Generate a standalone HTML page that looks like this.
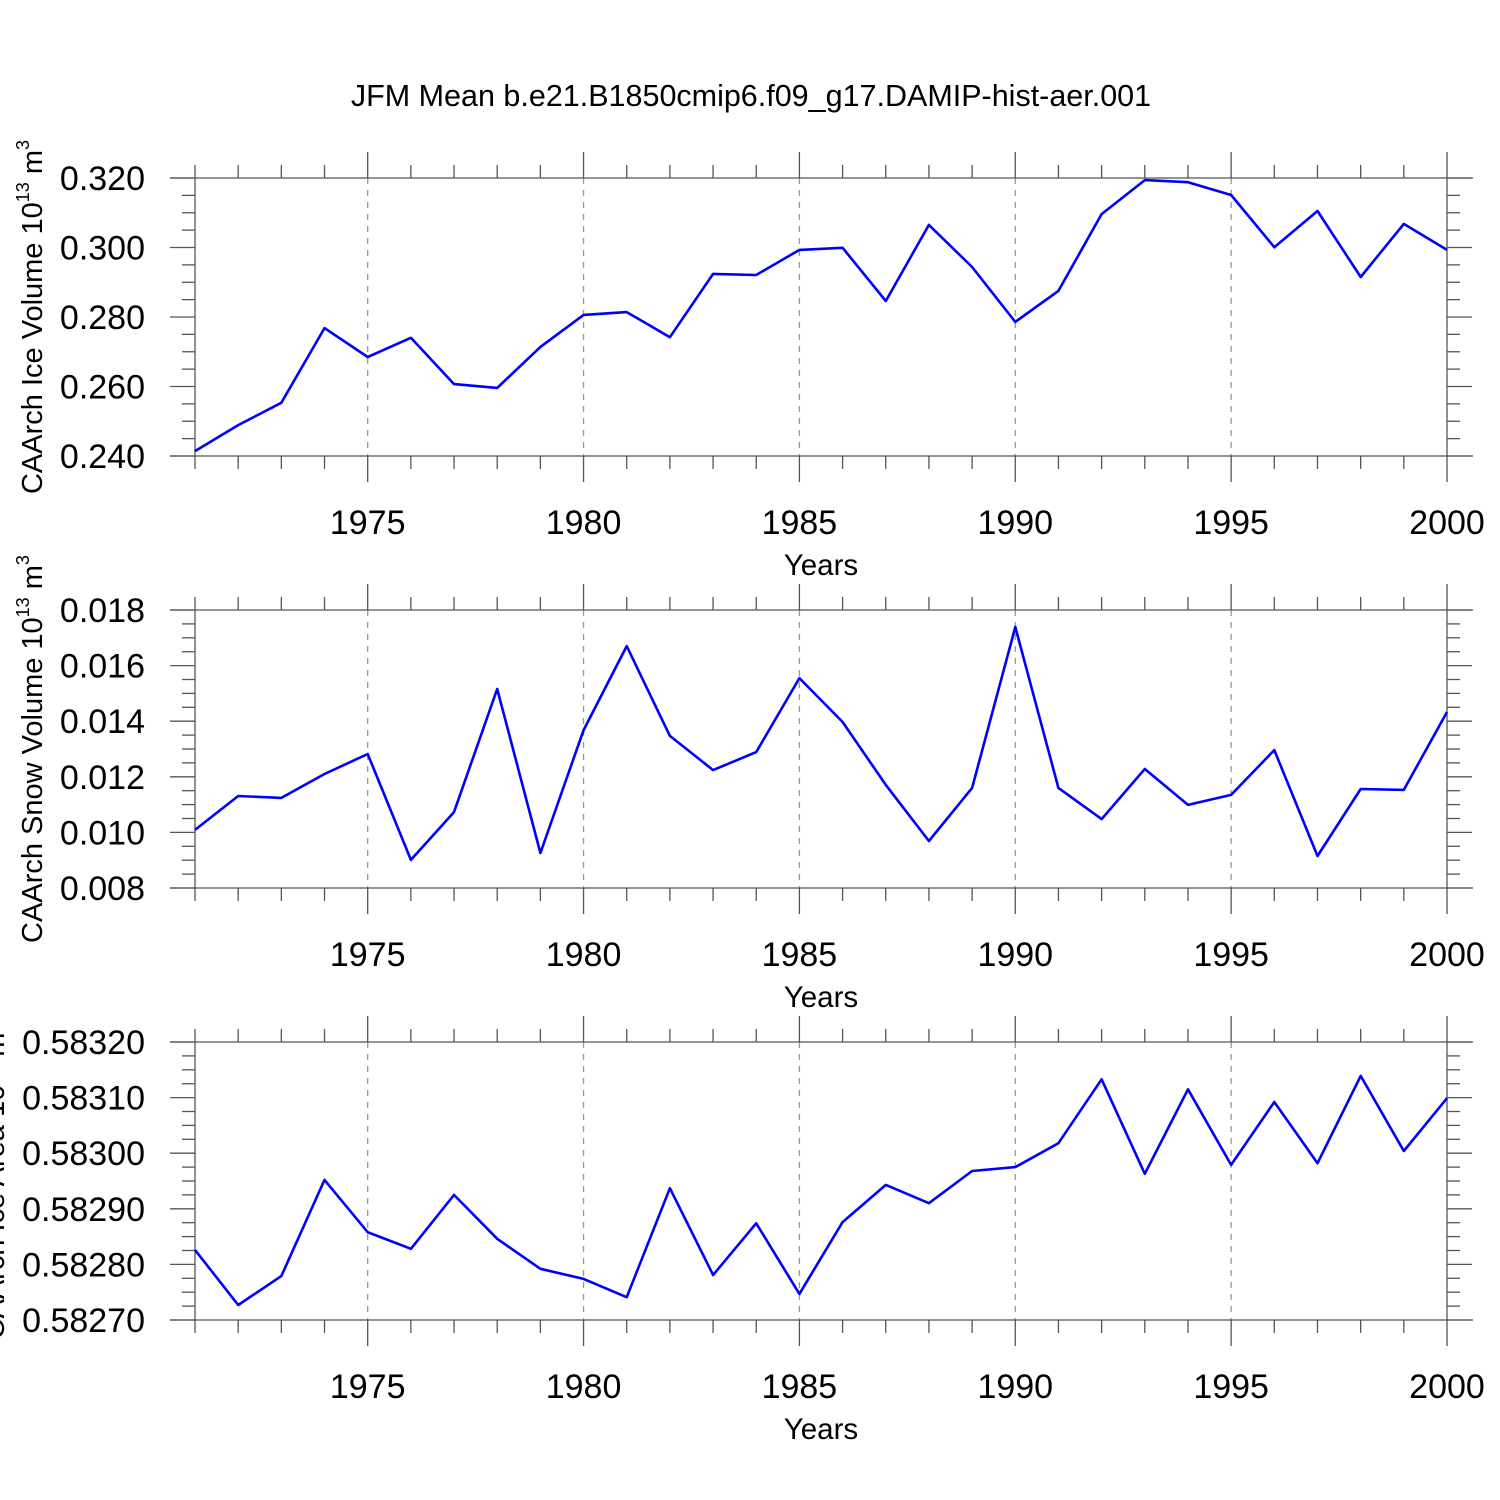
<!DOCTYPE html>
<html><head><meta charset="utf-8"><style>
html,body{margin:0;padding:0;background:#fff;}
svg{display:block;font-family:"Liberation Sans",sans-serif;}
</style></head><body>
<svg id="chart" width="1500" height="1500" viewBox="0 0 1500 1500" xmlns="http://www.w3.org/2000/svg">
<rect width="1500" height="1500" fill="#fff"/>
<text x="751" y="106" font-size="30.5" text-anchor="middle">JFM Mean b.e21.B1850cmip6.f09_g17.DAMIP-hist-aer.001</text>
</svg>
<script>
const years = [1971,1972,1973,1974,1975,1976,1977,1978,1979,1980,1981,1982,1983,1984,1985,1986,1987,1988,1989,1990,1991,1992,1993,1994,1995,1996,1997,1998,1999,2000];
const iceVolume = [0.2414,0.2489,0.2553,0.2768,0.2685,0.2740,0.2607,0.2596,0.2714,0.2806,0.2814,0.2742,0.2924,0.2921,0.2993,0.2999,0.2846,0.3065,0.2944,0.2786,0.2875,0.3096,0.3194,0.3188,0.3151,0.3001,0.3105,0.2915,0.3068,0.2993];
const snowVolume = [0.01009,0.01131,0.01124,0.01210,0.01282,0.00901,0.01073,0.01516,0.00926,0.01368,0.01670,0.01347,0.01224,0.01289,0.01555,0.01397,0.01171,0.00969,0.01160,0.01739,0.01160,0.01048,0.01228,0.01099,0.01135,0.01296,0.00915,0.01156,0.01153,0.01433];
const iceArea = [0.582826,0.582727,0.582779,0.582952,0.582858,0.582828,0.582925,0.582846,0.582792,0.582774,0.582741,0.582937,0.582781,0.582874,0.582747,0.582876,0.582943,0.582910,0.582968,0.582975,0.583018,0.583133,0.582963,0.583115,0.582979,0.583092,0.582982,0.583139,0.583004,0.583099];
const xTickYears = [1975,1980,1985,1990,1995,2000];
const iceVolTicks = ["0.240","0.260","0.280","0.300","0.320"];
const snowTicks = ["0.008","0.010","0.012","0.014","0.016","0.018"];
const areaTicks = ["0.58270","0.58280","0.58290","0.58300","0.58310","0.58320"];

const NS = "http://www.w3.org/2000/svg";
const svg = document.getElementById('chart');
function mk(tag, attrs, parent){const e=document.createElementNS(NS,tag);for(const k in attrs)e.setAttribute(k,attrs[k]);(parent||svg).appendChild(e);return e;}
const X0=195, X1=1447;
function xs(yr){return X0+(yr-1971)/(2000-1971)*(X1-X0);}

function panel(name, top, vals, ticks, ymin, ymax, ylabel, ylabelX, sup2, tickX){
  const bot=top+278;
  const g=mk('g',{});
  
  
  const ys=v=>bot-(v-ymin)/(ymax-ymin)*278;
  xTickYears.forEach(yr=>{ if(yr<2000){const l=mk('line',{x1:xs(yr),x2:xs(yr),y1:top,y2:bot,stroke:'#999','stroke-width':1.3,'stroke-dasharray':'6,6'},g);
     }});
  [[170,top,1473,top],[170,bot,1473,bot],[X0,top,X0,bot],[X1,top,X1,bot]].forEach(c=>{
    const l=mk('line',{x1:c[0],y1:c[1],x2:c[2],y2:c[3],stroke:'#555','stroke-width':1.3},g);
     });
  for(let yr=1971; yr<=2000; yr++){
    const major = yr%5===0; const len = major?26:13;
    const x=xs(yr);
    mk('line',{x1:x,x2:x,y1:top,y2:top-len,stroke:'#555','stroke-width':1.3},g);
    mk('line',{x1:x,x2:x,y1:bot,y2:bot+len,stroke:'#555','stroke-width':1.3},g);
  }
  const n=ticks.length-1;
  for(let i=0;i<=n*4;i++){
    const y=bot-i/(n*4)*278; const major=i%4===0; const len=major?25:13;
    mk('line',{x1:X0,x2:X0-len,y1:y,y2:y,stroke:'#555','stroke-width':1.3},g);
    mk('line',{x1:X1,x2:X1+len,y1:y,y2:y,stroke:'#555','stroke-width':1.3},g);
  }
  ticks.forEach((t,i)=>{const tx=mk('text',{x:tickX,y:bot-i/n*278+12,'font-size':34,'text-anchor':'end'},g);tx.textContent=t;
     });
  xTickYears.forEach(yr=>{const tx=mk('text',{x:xs(yr),y:bot+78,'font-size':34,'text-anchor':'middle'},g);tx.textContent=yr;
     });
  const xl=mk('text',{x:821,y:bot+119,'font-size':29.5,'text-anchor':'middle'},g);xl.textContent='Years';
   
  const yl=mk('text',{transform:`translate(${ylabelX},${top+139}) rotate(-90)`,'font-size':29,'text-anchor':'middle'},g);
   
  yl.innerHTML = ylabel+' 10<tspan dy="-13" font-size="18">13</tspan><tspan dy="13"> m</tspan><tspan dy="-13" font-size="18">'+sup2+'</tspan>';
  const pts=vals.map((v,i)=>xs(years[i]).toFixed(1)+','+ys(v).toFixed(1)).join(' ');
  const pl=mk('polyline',{points:pts,fill:'none',stroke:'#0000ff','stroke-width':2.6,'stroke-linejoin':'round'},g);
  
  
}
panel('ice-volume',178,iceVolume,iceVolTicks,0.24,0.32,'CAArch Ice Volume',42,'3',145);
panel('snow-volume',610,snowVolume,snowTicks,0.008,0.018,'CAArch Snow Volume',42,'3',145);
panel('ice-area',1042,iceArea,areaTicks,0.5827,0.5832,'CAArch Ice Area',4,'2',145);
</script>
</body></html>
